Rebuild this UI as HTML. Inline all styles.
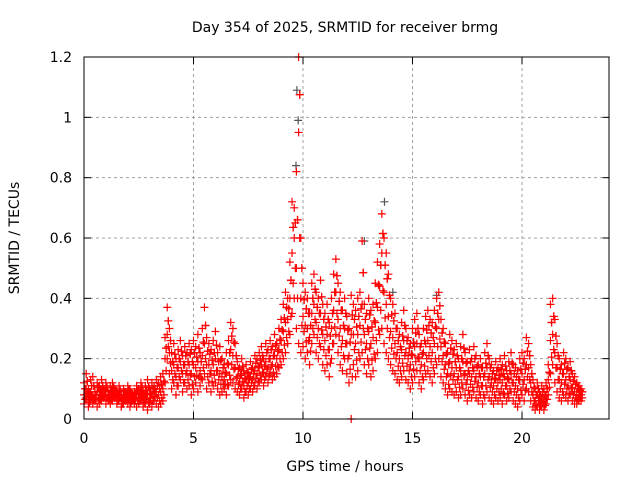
<!DOCTYPE html>
<html><head><meta charset="utf-8"><style>
body{margin:0;background:#fff;}
svg text{font-family:"DejaVu Sans","Liberation Sans",sans-serif;font-size:14px;fill:#000;}
</style></head><body>
<svg id="chart" width="640" height="480" viewBox="0 0 640 480" xmlns="http://www.w3.org/2000/svg">
<rect width="640" height="480" fill="#fff"/>
<text x="345" y="32" text-anchor="middle">Day 354 of 2025, SRMTID for receiver brmg</text>
<text x="345" y="471" text-anchor="middle">GPS time / hours</text>
<text transform="translate(19,238) rotate(-90)" text-anchor="middle">SRMTID / TECUs</text>
<g id="grid"></g>
<g id="marks"></g>
<rect x="84" y="57" width="525" height="362" fill="none" stroke="#000" stroke-width="1"/>
<g id="ticks"></g>
</svg>
<script>
const xTicks=[0,5,10,15,20];
const yTicks=[0,0.2,0.4,0.6,0.8,1,1.2];
const yTickLabels=["0","0.2","0.4","0.6","0.8","1","1.2"];
const startHour=0, stepHour=0.1;
const upperVals=[0.12,0.15,0.10,0.13,0.14,0.09,0.12,0.11,0.13,0.10,0.12,0.09,0.11,0.12,0.10,0.09,0.11,0.08,0.10,0.09,0.11,0.10,0.08,0.09,0.11,0.10,0.12,0.09,0.11,0.13,0.10,0.12,0.11,0.13,0.12,0.14,
0.15,0.27,0.37,0.30,
0.22,0.25,0.20,0.23,0.26,0.21,0.24,0.22,0.25,0.23,
0.26,0.24,0.28,0.22,0.30,0.37,0.27,0.25,0.23,0.26,
0.29,0.22,0.24,0.20,0.18,0.22,0.26,0.32,0.30,0.25,
0.19,0.17,0.20,0.16,0.18,0.15,0.19,0.17,0.21,0.20,
0.22,0.24,0.20,0.25,0.23,0.26,0.24,0.28,0.25,0.30,
0.33,0.38,0.42,0.40,0.52,0.72,0.70,0.82,1.20,0.60,
0.45,0.42,0.40,0.35,0.45,0.48,0.42,0.40,0.46,0.38,
0.35,0.38,0.32,0.40,0.48,0.53,0.45,0.42,0.36,0.40,
0.34,0.30,0.41,0.38,0.36,0.40,0.42,0.59,0.38,0.35,
0.40,0.36,0.38,0.45,0.52,0.58,0.68,0.60,0.55,0.48,
0.40,0.38,0.35,0.30,0.28,0.32,0.36,0.30,0.27,0.25,
0.30,0.33,0.35,0.28,0.25,0.30,0.34,0.36,0.33,0.32,
0.36,0.40,0.42,0.33,0.30,0.25,0.22,0.28,0.26,0.23,
0.25,0.20,0.24,0.28,0.22,0.19,0.23,0.20,0.24,0.21,
0.18,0.20,0.17,0.22,0.25,0.20,0.18,0.16,0.19,0.17,
0.20,0.18,0.21,0.16,0.19,0.22,0.18,0.17,0.16,0.20,
0.22,0.20,0.27,0.25,0.18,0.13,0.10,0.12,0.09,0.11,
0.10,0.12,0.18,0.38,0.40,0.33,0.25,0.20,0.18,0.22,
0.20,0.17,0.19,0.15,0.14,0.12,0.11,0.10];
const midVals=[0.08,0.10,0.07,0.09,0.08,0.07,0.09,0.08,0.09,0.08,0.09,0.07,0.08,0.09,0.08,0.07,0.08,0.06,0.08,0.07,0.08,0.07,0.07,0.07,0.08,0.07,0.09,0.07,0.08,0.08,0.07,0.08,0.09,0.09,0.08,0.09,
0.10,0.20,0.28,0.22,
0.16,0.18,0.14,0.17,0.19,0.15,0.18,0.16,0.18,0.15,
0.18,0.17,0.19,0.16,0.21,0.25,0.18,0.18,0.16,0.18,
0.20,0.16,0.15,0.14,0.13,0.15,0.18,0.23,0.21,0.17,
0.14,0.12,0.15,0.11,0.13,0.12,0.14,0.13,0.16,0.15,
0.17,0.18,0.15,0.19,0.17,0.20,0.18,0.21,0.20,0.23,
0.26,0.29,0.32,0.33,0.40,0.55,0.60,0.50,0.95,0.40,
0.34,0.31,0.30,0.27,0.35,0.38,0.32,0.30,0.35,0.28,
0.26,0.28,0.23,0.30,0.36,0.42,0.33,0.30,0.26,0.30,
0.25,0.21,0.28,0.28,0.25,0.28,0.31,0.38,0.28,0.25,
0.29,0.25,0.27,0.32,0.37,0.44,0.55,0.42,0.38,0.34,
0.29,0.27,0.25,0.22,0.20,0.23,0.26,0.22,0.20,0.18,
0.21,0.24,0.25,0.20,0.18,0.22,0.25,0.26,0.24,0.22,
0.25,0.30,0.33,0.24,0.21,0.18,0.15,0.19,0.17,0.15,
0.17,0.14,0.16,0.19,0.15,0.13,0.15,0.14,0.16,0.14,
0.12,0.14,0.11,0.15,0.17,0.14,0.12,0.11,0.13,0.12,
0.13,0.12,0.14,0.11,0.13,0.15,0.12,0.11,0.10,0.13,
0.15,0.13,0.18,0.17,0.12,0.08,0.06,0.08,0.06,0.07,
0.06,0.08,0.13,0.26,0.28,0.22,0.17,0.13,0.12,0.15,
0.13,0.11,0.13,0.10,0.09,0.08,0.08,0.08];
const lowerVals=[0.05,0.07,0.04,0.06,0.05,0.06,0.04,0.05,0.06,0.07,0.05,0.06,0.05,0.06,0.07,0.05,0.06,0.04,0.05,0.06,0.05,0.04,0.06,0.05,0.04,0.05,0.06,0.04,0.05,0.03,0.05,0.04,0.06,0.05,0.04,0.05,
0.06,0.12,0.20,0.15,
0.10,0.12,0.08,0.11,0.13,0.09,0.12,0.10,0.11,0.08,
0.10,0.12,0.09,0.11,0.13,0.15,0.10,0.12,0.09,0.11,
0.12,0.10,0.08,0.09,0.10,0.08,0.11,0.13,0.12,0.10,
0.09,0.08,0.10,0.07,0.09,0.08,0.10,0.09,0.11,0.10,
0.12,0.13,0.11,0.14,0.12,0.15,0.13,0.14,0.15,0.17,
0.18,0.20,0.22,0.25,0.28,0.35,0.40,0.30,0.25,0.22,
0.24,0.20,0.22,0.18,0.25,0.28,0.22,0.20,0.24,0.18,
0.16,0.18,0.14,0.20,0.25,0.28,0.22,0.18,0.16,0.20,
0.15,0.12,0.00,0.18,0.14,0.16,0.20,0.22,0.18,0.15,
0.18,0.14,0.16,0.20,0.22,0.28,0.30,0.25,0.22,0.20,
0.18,0.16,0.15,0.13,0.12,0.14,0.16,0.13,0.12,0.10,
0.12,0.14,0.16,0.12,0.10,0.13,0.15,0.16,0.14,0.12,
0.15,0.18,0.20,0.14,0.12,0.10,0.08,0.10,0.09,0.08,
0.09,0.07,0.08,0.10,0.08,0.06,0.08,0.07,0.09,0.07,
0.06,0.08,0.05,0.07,0.09,0.07,0.06,0.05,0.07,0.06,
0.07,0.05,0.08,0.06,0.07,0.09,0.06,0.05,0.04,0.06,
0.08,0.06,0.10,0.09,0.06,0.04,0.03,0.04,0.03,0.04,
0.03,0.05,0.08,0.15,0.18,0.12,0.09,0.07,0.06,0.08,
0.07,0.06,0.08,0.06,0.05,0.05,0.06,0.06];
const grayHours=[9.72,9.78,9.68,13.72,12.8,10.2,14.1,16.1];
const grayVals=[1.09,0.99,0.84,0.72,0.59,0.30,0.42,0.41];

const X0=84,X1=609.6,Y0=419,Y1=57,XMAX=24,YMAX=1.2;
function xs(h){return X0+(X1-X0)*h/XMAX;}
function ys(v){return Y0-(Y0-Y1)*v/YMAX;}
const NS="http://www.w3.org/2000/svg";
const grid=document.getElementById('grid'),ticks=document.getElementById('ticks'),marks=document.getElementById('marks');
function mk(tag,attrs,parent){const e=document.createElementNS(NS,tag);for(const k in attrs)e.setAttribute(k,attrs[k]);parent.appendChild(e);return e;}
yTicks.forEach((v,i)=>{
  const y=ys(v);
  if(v>0&&v<YMAX){const g=mk('line',{x1:X0,x2:X1,y1:y,y2:y,stroke:'#a0a0a0','stroke-dasharray':'3,3'},grid);
    
    }
  mk('line',{x1:X0,x2:X0+7,y1:y,y2:y,stroke:'#000'},ticks);
  mk('line',{x1:X1-7,x2:X1,y1:y,y2:y,stroke:'#000'},ticks);
  const t=mk('text',{x:X0-12,y:y+5,'text-anchor':'end'},ticks);t.textContent=yTickLabels[i];
  
  
});
xTicks.forEach(h=>{
  const x=xs(h);
  if(h>0){const g=mk('line',{x1:x,x2:x,y1:Y0,y2:Y1,stroke:'#a0a0a0','stroke-dasharray':'3,3'},grid);
    
    }
  mk('line',{x1:x,x2:x,y1:Y0,y2:Y0-7,stroke:'#000'},ticks);
  mk('line',{x1:x,x2:x,y1:Y1,y2:Y1+7,stroke:'#000'},ticks);
  const t=mk('text',{x:x,y:Y0+24,'text-anchor':'middle'},ticks);t.textContent=String(h);
  
  
});
function plus(h,v,color,name){
  const x=xs(h),y=ys(v);
  const p=mk('path',{d:`M${x-4} ${y}H${x+4}M${x} ${y-4}V${y+4}`,stroke:color,'stroke-width':1.2,fill:'none'},marks);
  
  
}
grayHours.forEach((h,i)=>plus(h,grayVals[i],'#555','gray-point'));
[upperVals,midVals,lowerVals].forEach(arr=>arr.forEach((v,i)=>{
  const h=startHour+i*stepHour;
  plus(h,v,'#ff0000','srmtid-point');
  plus(h+0.05,(v+(arr===lowerVals?midVals[i]:arr===midVals?upperVals[i]:midVals[i]))/2,'#ff0000','srmtid-point');
}));
</script>
</body></html>
